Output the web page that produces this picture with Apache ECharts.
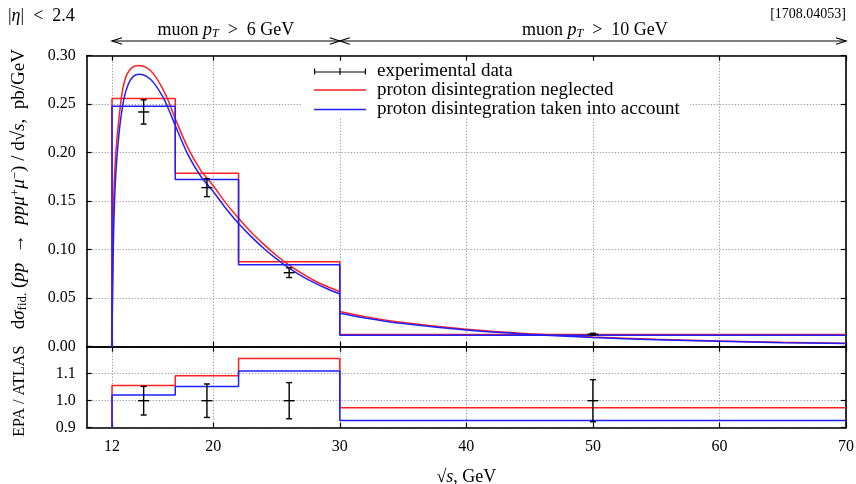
<!DOCTYPE html>
<html><head><meta charset="utf-8">
<script src="https://cdn.jsdelivr.net/npm/echarts@6/dist/echarts.min.js"></script>
<style>html,body{margin:0;padding:0;background:#fff}#c{width:856px;height:484px}</style>
</head><body><div id="c"></div>
<script>
// ---------------- data ----------------
const binEdges = [12, 17, 22, 30, 70];
const histNeglected = [0.256, 0.1788, 0.0876, 0.01247];
const histIncluded = [0.248, 0.1725, 0.0845, 0.01187];
const dataX = [14.5, 19.5, 26, 50];
const dataY = [0.242, 0.164, 0.0763, 0.0128];
const dataErr = [0.0125, 0.0093, 0.005, 0.001];
const ratioNeglected = [1.056, 1.092, 1.156, 0.974];
const ratioIncluded = [1.021, 1.053, 1.110, 0.927];
const ratioData = [1, 1, 1, 1];
const ratioErr = [0.053, 0.062, 0.067, 0.078];
const curveNeglectedLow = [[12,0],[12.04,0.07],[12.1,0.13],[12.18,0.17],[12.3,0.2],[12.5,0.229],[12.8,0.262],[13.15,0.280],[13.6,0.288],[14.1,0.290],[14.7,0.288],[15.3,0.281],[16,0.266],[16.5,0.252],[17,0.235],[18,0.205],[19,0.182],[20,0.166],[21,0.148],[22,0.1324],[23,0.118],[24,0.1055],[25,0.094],[26,0.084],[27,0.0755],[28,0.068],[29,0.062],[30,0.0567]];
const curveNeglectedHigh = [[30,0.0363],[32,0.031],[35,0.025],[40,0.018],[45,0.0133],[50,0.0099],[55,0.0076],[60,0.0058],[65,0.0045],[70,0.0035]];
const curveIncludedLow = [[12,0],[12.05,0.06],[12.12,0.115],[12.2,0.15],[12.3,0.178],[12.45,0.205],[12.66,0.232],[12.95,0.256],[13.3,0.271],[13.7,0.279],[14.15,0.281],[14.7,0.279],[15.3,0.272],[16,0.258],[16.5,0.244],[17,0.228],[18,0.198],[19,0.176],[20,0.16],[21,0.1425],[22,0.127],[23,0.1135],[24,0.1013],[25,0.0905],[26,0.081],[27,0.0728],[28,0.0658],[29,0.0597],[30,0.0543]];
const curveIncludedHigh = [[30,0.0345],[32,0.0296],[35,0.0238],[40,0.0171],[45,0.0127],[50,0.0094],[55,0.0072],[60,0.0055],[65,0.0042],[70,0.0032]];
const xTicks = [12, 20, 30, 40, 50, 60, 70];
const nameNeglected = 'proton disintegration neglected';
const nameIncluded = 'proton disintegration taken into account';
const nameData = 'experimental data';

// ---------------- helpers ----------------
const FONT = 'Liberation Serif';
const RED = '#ff1f1f', BLUE = '#1f1fff';
function steps(edges, vals, base) {
  const pts = [[edges[0], base]];
  vals.forEach((v, i) => { pts.push([edges[i], v]); pts.push([edges[i + 1], v]); });
  return pts;
}
function errRender(params, api) {
  const x = api.value(0), y = api.value(1), e = api.value(2);
  const c = api.coord([x, y]), t = api.coord([x, y + e]), b = api.coord([x, y - e]);
  const st = { stroke: '#000', lineWidth: 1.4 };
  return { type: 'group', children: [
    { type: 'line', shape: { x1: c[0], y1: t[1], x2: c[0], y2: b[1] }, style: st },
    { type: 'line', shape: { x1: c[0] - 3, y1: t[1], x2: c[0] + 3, y2: t[1] }, style: st },
    { type: 'line', shape: { x1: c[0] - 3, y1: b[1], x2: c[0] + 3, y2: b[1] }, style: st },
    { type: 'line', shape: { x1: c[0] - 5.5, y1: c[1], x2: c[0] + 5.5, y2: c[1] }, style: st }
  ]};
}
const gridLine = { show: true, lineStyle: { color: '#808080', width: 1, type: [1, 2] } };
const frameLine = { show: true, onZero: false, lineStyle: { color: '#000', width: 1.6 } };
const tick = { show: true, inside: true, length: 5, lineStyle: { color: '#000', width: 1.2 } };
const labelStyle = { fontFamily: FONT, fontSize: 16, color: '#000' };
function mkRich(fs) {
  const s = Math.round(fs * 0.68);
  return {
    i: { fontFamily: FONT, fontSize: fs, fontStyle: 'italic', color: '#000' },
    sub: { fontFamily: FONT, fontSize: s, fontStyle: 'italic', color: '#000', padding: [7, 0, 0, 0] },
    subr: { fontFamily: FONT, fontSize: s, color: '#000', padding: [7, 0, 0, 0] },
    sup: { fontFamily: FONT, fontSize: s, color: '#000', padding: [0, 0, 7, 0] }
  };
}
function xAxisDef(grid, pos, labels, split) {
  return { type: 'value', gridIndex: grid, position: pos, min: 10, max: 70,
    axisLine: frameLine, axisTick: Object.assign({ customValues: xTicks }, tick),
    axisLabel: labels ? Object.assign({ customValues: xTicks, margin: 11 }, labelStyle) : { show: false },
    splitLine: split ? Object.assign({}, gridLine) : { show: false } };
}
const legendText = { fontFamily: FONT, fontSize: 19, color: '#000', padding: [0, 0, 0, 6] };

const chart = echarts.init(document.getElementById('c'), null, { renderer: 'canvas' });
const option = {
  animation: false,
  backgroundColor: '#fff',
  grid: [
    { left: 86.7, right: 10, top: 55.7, height: 291, outerBoundsMode: 'none', containLabel: false },
    { left: 86.7, right: 10, top: 346.7, height: 81, outerBoundsMode: 'none', containLabel: false }
  ],
  xAxis: [
    xAxisDef(0, 'bottom', false, true),
    xAxisDef(0, 'top', false, false),
    Object.assign(xAxisDef(1, 'bottom', true, true), {
      name: '√{i|s}, GeV', nameLocation: 'middle', nameGap: 41,
      nameTextStyle: { fontFamily: FONT, fontSize: 18, color: '#000', rich: mkRich(18) } }),
    xAxisDef(1, 'top', false, false)
  ],
  yAxis: [
    { type: 'value', gridIndex: 0, position: 'left', min: 0, max: 0.3, interval: 0.05,
      axisLine: frameLine, axisTick: tick, splitLine: gridLine,
      axisLabel: Object.assign({ margin: 11, formatter: v => v.toFixed(2) }, labelStyle),
      name: 'd{i|σ}{subr|fid.} ({i|pp}  →  {i|ppμ}{sup|+}{i|μ}{sup|−}) / d√{i|s},  pb/GeV',
      nameLocation: 'middle', nameGap: 58, nameRotate: 90,
      nameTextStyle: { fontFamily: FONT, fontSize: 19, color: '#000', rich: mkRich(19), padding: [0, 0, 0, 24] } },
    { type: 'value', gridIndex: 0, position: 'right', min: 0, max: 0.3, interval: 0.05,
      axisLine: frameLine, axisTick: tick, splitLine: { show: false }, axisLabel: { show: false } },
    { type: 'value', gridIndex: 1, position: 'left', min: 0.9, max: 1.2, interval: 0.1,
      axisLine: frameLine, axisTick: tick, splitLine: gridLine,
      axisLabel: Object.assign({ margin: 11, formatter: v => (v < 1.15 ? v.toFixed(1) : '') }, labelStyle),
      name: 'EPA / ATLAS', nameLocation: 'middle', nameGap: 59, nameRotate: 90,
      nameTextStyle: Object.assign({ padding: [0, 8, 0, 0] }, labelStyle) },
    { type: 'value', gridIndex: 1, position: 'right', min: 0.9, max: 1.2, interval: 0.1,
      axisLine: frameLine, axisTick: tick, splitLine: { show: false }, axisLabel: { show: false } }
  ],
  legend: [
    { data: [{ name: nameData, icon: 'path://M0,3.4h52v1.2h-52z M0,0.5h1.2v6h-1.2z M50.8,0.5h1.2v6h-1.2z M25.4,0h1.2v7h-1.2z' }],
      left: 314, top: 62, itemWidth: 52, itemHeight: 7, padding: 0, z: 10, selectedMode: false,
      textStyle: legendText },
    { data: [{ name: nameNeglected, icon: 'rect' }, { name: nameIncluded, icon: 'rect' }],
      orient: 'vertical', left: 314, top: 80.5, itemWidth: 52, itemHeight: 1.6,
      itemGap: 0.5, padding: 0, z: 10, selectedMode: false, textStyle: legendText }
  ],
  series: [
    { name: nameNeglected, type: 'line', xAxisIndex: 0, yAxisIndex: 0, data: steps(binEdges, histNeglected, 0),
      symbol: 'none', lineStyle: { color: RED, width: 1.5 }, itemStyle: { color: RED } },
    { name: nameNeglected, type: 'line', xAxisIndex: 0, yAxisIndex: 0, data: curveNeglectedLow,
      symbol: 'none', smooth: 0.3, lineStyle: { color: RED, width: 1.5 }, itemStyle: { color: RED } },
    { name: nameNeglected, type: 'line', xAxisIndex: 0, yAxisIndex: 0, data: curveNeglectedHigh,
      symbol: 'none', smooth: 0.3, lineStyle: { color: RED, width: 1.5 }, itemStyle: { color: RED } },
    { name: nameIncluded, type: 'line', xAxisIndex: 0, yAxisIndex: 0, data: steps(binEdges, histIncluded, 0),
      symbol: 'none', lineStyle: { color: BLUE, width: 1.5 }, itemStyle: { color: BLUE } },
    { name: nameIncluded, type: 'line', xAxisIndex: 0, yAxisIndex: 0, data: curveIncludedLow,
      symbol: 'none', smooth: 0.3, lineStyle: { color: BLUE, width: 1.5 }, itemStyle: { color: BLUE } },
    { name: nameIncluded, type: 'line', xAxisIndex: 0, yAxisIndex: 0, data: curveIncludedHigh,
      symbol: 'none', smooth: 0.3, lineStyle: { color: BLUE, width: 1.5 }, itemStyle: { color: BLUE } },
    { name: nameData, type: 'custom', xAxisIndex: 0, yAxisIndex: 0, renderItem: errRender, z: 5,
      itemStyle: { color: '#000' },
      data: dataX.map((x, i) => [x, dataY[i], dataErr[i]]) },
    { name: nameNeglected, type: 'line', xAxisIndex: 2, yAxisIndex: 2, data: steps(binEdges, ratioNeglected, 0.9),
      symbol: 'none', lineStyle: { color: RED, width: 1.5 }, itemStyle: { color: RED } },
    { name: nameIncluded, type: 'line', xAxisIndex: 2, yAxisIndex: 2, data: steps(binEdges, ratioIncluded, 0.9),
      symbol: 'none', lineStyle: { color: BLUE, width: 1.5 }, itemStyle: { color: BLUE } },
    { name: nameData, type: 'custom', xAxisIndex: 2, yAxisIndex: 2, renderItem: errRender, z: 5,
      itemStyle: { color: '#000' },
      data: dataX.map((x, i) => [x, ratioData[i], ratioErr[i]]) }
  ]
};
chart.setOption(option);

// annotations positioned through the axis scale
const px = v => chart.convertToPixel({ xAxisIndex: 0 }, v);
const x12 = px(binEdges[0]), x30 = px(binEdges[3]), x70 = px(binEdges[4]);
const ay = 41, ah = 10, aw = 3.2;
const arrowStyle = { stroke: '#000', lineWidth: 1.2, fill: null };
function head(tipX, dir) {
  return { type: 'polyline', shape: { points: [[tipX + dir * ah, ay - aw], [tipX, ay], [tipX + dir * ah, ay + aw]] }, style: arrowStyle };
}
const r18 = mkRich(18);
chart.setOption({
  graphic: [
    { type: 'rect', shape: { x: 302, y: 61, width: 388, height: 57 }, style: { fill: '#fff' }, z: 3, silent: true },
    { type: 'line', shape: { x1: x12, y1: ay, x2: x30, y2: ay }, style: arrowStyle },
    head(x12, 1), head(x30, -1),
    { type: 'line', shape: { x1: x30, y1: ay, x2: x70, y2: ay }, style: arrowStyle },
    head(x30, 1), head(x70, -1),
    { type: 'text', x: (x12 + x30) / 2, y: 30, style: { text: 'muon {i|p}{sub|T}  >  6 GeV', rich: r18,
      font: '18px ' + FONT, fill: '#000', align: 'center', verticalAlign: 'middle' } },
    { type: 'text', x: (x30 + x70) / 2 + 2, y: 30, style: { text: 'muon {i|p}{sub|T}  >  10 GeV', rich: r18,
      font: '18px ' + FONT, fill: '#000', align: 'center', verticalAlign: 'middle' } },
    { type: 'text', x: 8, y: 16, style: { text: '|{i|η}|  <  2.4', rich: mkRich(18),
      font: '18px ' + FONT, fill: '#000', align: 'left', verticalAlign: 'middle' } },
    { type: 'text', x: 846, y: 14, style: { text: '[1708.04053]',
      font: '14px ' + FONT, fill: '#000', align: 'right', verticalAlign: 'middle' } }
  ]
});
</script></body></html>
